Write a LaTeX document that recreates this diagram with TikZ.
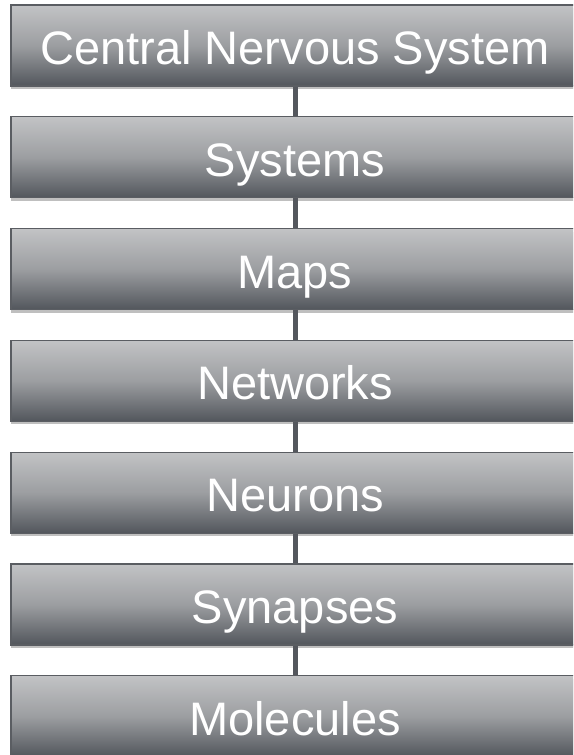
\documentclass[tikz,border=0pt]{standalone}
\usepackage{fontspec}
\setmainfont{Liberation Sans}
\usetikzlibrary{shadows}
\definecolor{boxtop}{HTML}{C2C3C5}
\definecolor{boxmid}{HTML}{9C9EA1}
\definecolor{boxbot}{HTML}{52565C}
\definecolor{boxedge}{HTML}{5A5D62}
\definecolor{linkcol}{HTML}{54575D}
\tikzset{
  level/.style={rectangle, minimum width=568pt, minimum height=81pt, inner sep=0pt,
    top color=boxtop, bottom color=boxbot, middle color=boxmid,
    draw=boxedge, line width=1.2pt,
    drop shadow={shadow xshift=0pt, shadow yshift=-3pt, opacity=0.25, fill=black},
    text=white, font=\fontsize{47}{56}\selectfont,
    text height=44pt, text depth=6pt},
  link/.style={draw=linkcol, line width=5pt}
}
\begin{document}
\begin{tikzpicture}[x=1pt,y=1pt]
\clip (0,0) rectangle (573,755);
\fill[white] (0,0) rectangle (573,755);
\node[level] (cns) at (295,709.5) {Central Nervous System};
\node[level] (sys) at (295,597.7) {Systems};
\node[level] (maps) at (295,485.9) {Maps};
\node[level] (net) at (295,374.1) {Networks};
\node[level] (neu) at (295,262.3) {Neurons};
\node[level] (syn) at (295,150.5) {Synapses};
\node[level] (mol) at (295,38.7) {Molecules};
\draw[link] (cns.south) -- (sys.north);
\draw[link] (sys.south) -- (maps.north);
\draw[link] (maps.south) -- (net.north);
\draw[link] (net.south) -- (neu.north);
\draw[link] (neu.south) -- (syn.north);
\draw[link] (syn.south) -- (mol.north);
\end{tikzpicture}
\end{document}
